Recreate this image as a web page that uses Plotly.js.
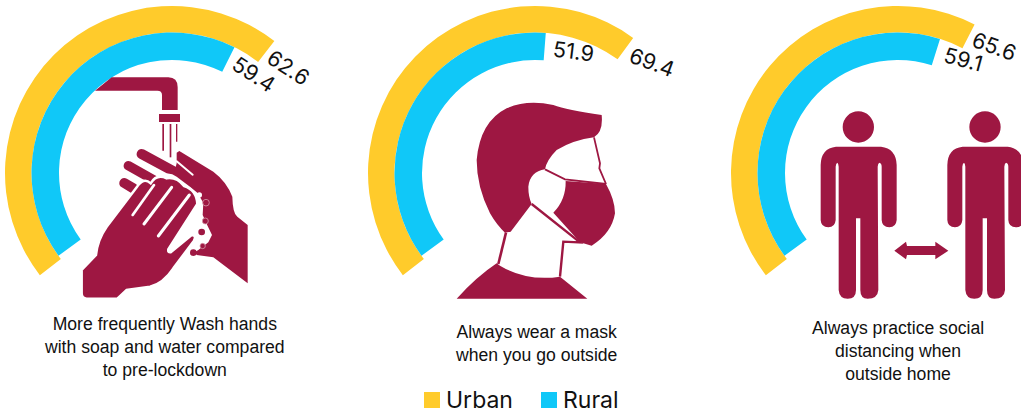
<!DOCTYPE html>
<html><head><meta charset="utf-8">
<script src="https://cdn.plot.ly/plotly-3.0.1.min.js"></script>
<style>html,body{margin:0;padding:0;background:#fff;overflow:hidden}#c{width:1100px;height:413px}#w{width:1021px;height:413px;overflow:hidden}</style>
</head><body><div id="w"><div id="c"></div></div>
<script>
// ---- data ----
const categories = [
  "More frequently Wash hands<br>with soap and water compared<br>to pre-lockdown",
  "Always wear a mask<br>when you go outside",
  "Always practice social<br>distancing when<br>outside home"
];
const seriesNames = ["Urban", "Rural"];
const urbanValues = [62.6, 69.4, 65.6];
const ruralValues = [59.4, 51.9, 59.1];
// sweep of each drawn arc, in degrees, as measured on the picture
const urbanArcDeg = [165.5, 163.7, 155];
const ruralArcDeg = [152.5, 130.5, 143.5];

// ---- layout constants ----
// the third gauge runs past the right edge of the picture, so the plot is wider than the window
const W = 1100, H = 413;
const centers = [[172,173],[535,173],[898,173]];
const R = {outer:167, mid:140.5, inner:113};
const YEL = "#FFCB2B", BLU = "#10C8F8", DARK = "#9E1742";
const NARROW = '"Liberation Sans",sans-serif';
const WIDE = 'Inter,"Open Sans",sans-serif';

function ring(c, r, hole, arc, color, rot){
  return {type:"pie", values:[arc,360-arc], labels:["a","b"], sort:false, direction:"clockwise",
    rotation:rot, hole:hole/r, textinfo:"none", hoverinfo:"skip", showlegend:false,
    marker:{colors:[color,"rgba(0,0,0,0)"], line:{width:0}},
    domain:{x:[(c[0]-r)/W,(c[0]+r)/W], y:[1-(c[1]+r)/H,1-(c[1]-r)/H]}};
}
const traces = [];
centers.forEach((c,i)=>{
  traces.push(ring(c,R.outer,R.mid,urbanArcDeg[i],YEL,-127.7));
  traces.push(ring(c,R.mid,R.inner,ruralArcDeg[i],BLU,-126.1));
});
// invisible helper trace so the pixel-like axes exist for icons and text
traces.push({type:"scatter", x:[0], y:[0], mode:"none", hoverinfo:"skip", showlegend:false});

// ---- icons (decoration), paths given in 3x crop coordinates ----
const tf = (p,ox,oy)=>p.replace(/(-?[\d.]+),(-?[\d.]+)/g,(m,a,b)=>((+a/3+ox).toFixed(2)+","+(+b/3+oy).toFixed(2)));
const shapes = [];
function fill(p,ox,oy,col,lw,lc){shapes.push({type:"path",xref:"x",yref:"y",layer:"above",path:tf(p,ox,oy),
  fillcolor:col||DARK,line:{width:lw||0,color:lc||col||DARK}});}
function stroke(p,ox,oy,lw,col){shapes.push({type:"path",xref:"x",yref:"y",layer:"above",path:tf(p,ox,oy),
  fillcolor:"rgba(0,0,0,0)",line:{width:lw,color:col||DARK}});}
function circ(cx,cy,r,ox,oy,col,lc,lw){shapes.push({type:"circle",xref:"x",yref:"y",layer:"above",
  x0:(cx-r)/3+ox,x1:(cx+r)/3+ox,y0:(cy-r)/3+oy,y1:(cy+r)/3+oy,fillcolor:col,line:{width:lw||0,color:lc||col}});}
function capsule(x0,y0,x1,y1,w,ox,oy,col){
  const dx=x1-x0,dy=y1-y0,l=Math.hypot(dx,dy),nx=-dy/l*w/2,ny=dx/l*w/2,ex=dx/l*w*0.66,ey=dy/l*w*0.66;
  const f=(a,b)=>a.toFixed(1)+","+b.toFixed(1);
  const p="M"+f(x0+nx,y0+ny)+" L"+f(x1+nx,y1+ny)+" C"+f(x1+nx+ex,y1+ny+ey)+" "+f(x1-nx+ex,y1-ny+ey)+" "+f(x1-nx,y1-ny)+
    " L"+f(x0-nx,y0-ny)+" C"+f(x0-nx-ex,y0-ny-ey)+" "+f(x0+nx-ex,y0+ny-ey)+" "+f(x0+nx,y0+ny)+" Z";
  fill(p,ox,oy,col);
}
// --- washing hands
fill("M285,272 L335,232 L505,232 Q533,232 533,262 L533,330 L486,330 L486,285 Q486,272 472,272 Z",0,0);
fill("M477,342 L540,342 L540,366 L477,366 Z",0,0);
fill("M487,372 L492,372 L492,452 L487,452 Z",0,0);
fill("M509,372 L514,372 L514,472 L509,472 Z",0,0);
fill("M528,372 L532,372 L532,425 L528,425 Z",0,0);
capsule(425,462,560,535,30,0,0);
capsule(385,497,470,545,28,0,0);
capsule(373,549,400,565,30,0,0);
fill("M530,458 L538,453 L640,515 Q680,545 697,590 Q698,640 712,650 L743,675 L743,850 L640,772 L590,765 L520,640 L520,530 L530,490 Z",0,0);
capsule(530,484,578,524,6,0,0,"#ffffff");
fill("M480,528 Q505,512 530,530 L570,560 L592,578 L610,608 L608,645 L620,672 L636,705 L625,727 L595,750 L560,770 L500,720 Z",0,0,"#ffffff");
circ(605,696,10,0,0,DARK); circ(580,758,10,0,0,DARK);
circ(618,608,10,0,0,DARK,"#d59aab",0.8); circ(616,663,9,0,0,DARK,"#d59aab",0.8); circ(608,738,8,0,0,DARK,"#d59aab",0.8);
circ(598,585,8,0,0,"#ffffff");
fill("M245,810 L288,765 Q292,720 320,680 L410,562 Q430,530 452,550 Q470,520 500,535 Q530,530 552,558 Q590,570 592,612 L505,748 Q503,758 512,757 L575,705 Q590,706 582,722 L520,805 Q490,850 450,860 L380,870 L352,896 L260,896 Q245,895 245,880 Z",0,0,DARK,2.5,"#ffffff");
capsule(398,645,462,555,8,0,0,"#ffffff");
capsule(432,672,515,562,9,0,0,"#ffffff");
capsule(475,708,568,585,9,0,0,"#ffffff");
// --- mask
const ox2=360;
fill("M725,345 Q620,330 580,315 Q500,298 440,325 Q360,365 350,480 Q350,560 390,640 Q410,675 435,698 L452,695 L515,612 Q505,590 505,560 Q510,515 555,508 Q560,480 590,450 Q640,420 702,412 Q730,395 725,345 Z",ox2,0);
fill("M617,543 L738,552 Q765,600 765,640 Q755,700 695,737 L660,727 L580,638 Q618,600 617,543 Z",ox2,0);
stroke("M702,412 L720,490 L718,505 L738,552",ox2,0,1.8);
stroke("M555,508 L615,538 L738,552",ox2,0,1.8);
stroke("M515,612 L660,727 L610,725 L600,830",ox2,0,2.4);
stroke("M438,698 L415,792",ox2,0,2.6);
fill("M290,896 Q350,830 410,790 L420,797 Q500,845 600,830 L682,896 Z",ox2,0);
// --- distancing
const ox3=721;
const person=d=>{
  circ(412+d,381,47,ox3,0,DARK);
  fill(("M345,440 L480,440 Q525,445 527,495 L527,660 Q525,682 505,682 Q483,682 482,660 L482,500 Q482,490 475,488 Q471,490 470,500 L472,870 Q470,896 440,896 Q418,896 418,870 L418,655 L405,655 L405,870 Q405,896 380,896 Q355,896 353,870 L353,500 Q352,490 349,488 Q345,490 344,500 L344,660 Q342,682 322,682 Q300,682 299,660 L299,495 Q300,445 345,440 Z"),ox3+d/3,0);
};
person(0); person(380);
fill("M520,752 L555,725 L558,738 L643,738 L643,725 L682,752 L643,778 L643,765 L558,765 L555,778 Z",ox3,0);

// ---- legend swatches ----
const swatchX=[424,541];
[YEL,BLU].forEach((c,i)=>shapes.push({type:"rect",xref:"x",yref:"y",layer:"above",x0:swatchX[i],x1:swatchX[i]+16,y0:392,y1:408,fillcolor:c,line:{width:0}}));

// ---- text ----
const ann=(t,x,y,size,fam,ang,anchor)=>({text:t,x:x,y:y,xref:"x",yref:"y",showarrow:false,xanchor:anchor||"center",yanchor:"middle",
  textangle:ang||0,font:{family:fam,size:size,color:"#111"}});
const urbanPos=[[288,67,33],[652,62,20],[994,46,20]];
const ruralPos=[[254,74,33],[573,51,7],[963,59,15]];
const capPos=[[164.5,347],[536,343],[898,351]];
const annotations=[];
categories.forEach((t,i)=>{
  annotations.push(Object.assign(ann(t,capPos[i][0],capPos[i][1],17.6,NARROW),{align:"center"}));
  annotations.push(ann(urbanValues[i].toFixed(1),urbanPos[i][0],urbanPos[i][1],21.5,WIDE,urbanPos[i][2]));
  annotations.push(ann(ruralValues[i].toFixed(1),ruralPos[i][0],ruralPos[i][1],21.5,WIDE,ruralPos[i][2]));
});
annotations.push(ann(seriesNames[0],443.5,400,23,WIDE,0,"left"));
annotations.push(ann(seriesNames[1],560.5,400,23,WIDE,0,"left"));

const layout={width:W,height:H,margin:{l:0,r:0,t:0,b:0},paper_bgcolor:"#fff",plot_bgcolor:"rgba(0,0,0,0)",showlegend:false,
  xaxis:{range:[0,W],visible:false,fixedrange:true,domain:[0,1]},
  yaxis:{range:[H,0],visible:false,fixedrange:true,domain:[0,1]},
  shapes:shapes,annotations:annotations};
Plotly.newPlot("c",traces,layout,{displayModeBar:false,staticPlot:true});
</script></body></html>
